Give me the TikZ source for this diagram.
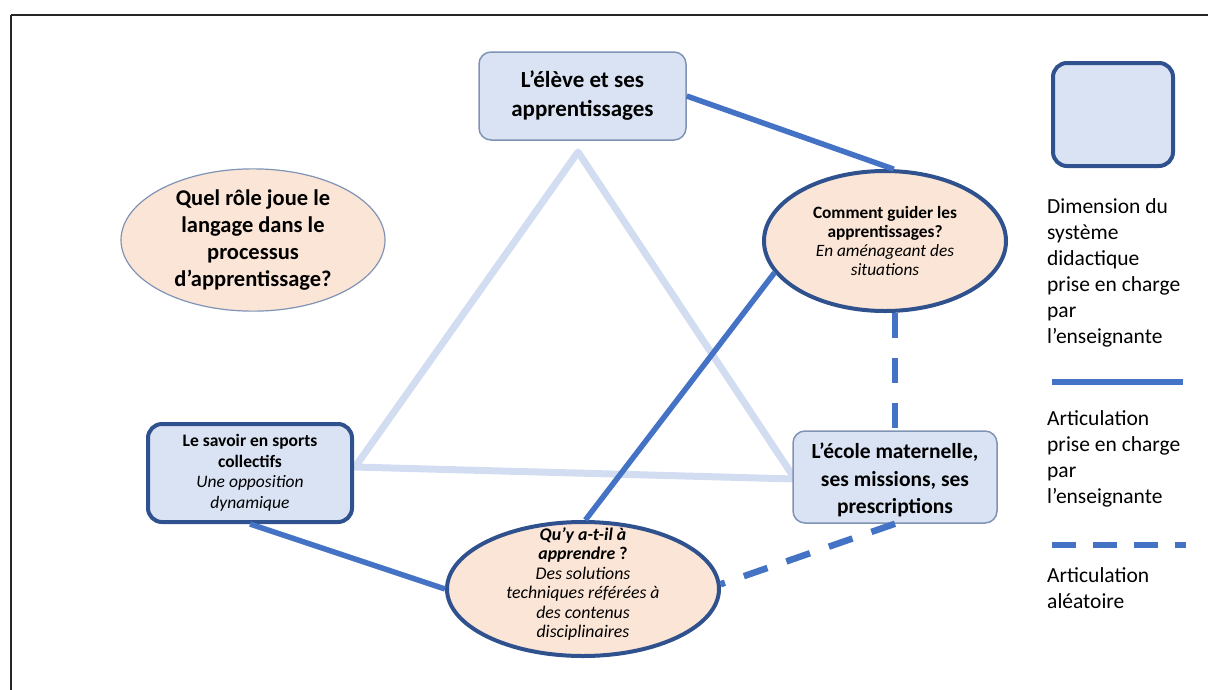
\documentclass[tikz,border=0pt]{standalone}
\usepackage{fontspec}
\setmainfont{Carlito}
\usetikzlibrary{shapes.geometric}
\definecolor{boxfill}{HTML}{DAE3F3}
\definecolor{peach}{HTML}{FBE5D6}
\definecolor{darkb}{HTML}{2F528F}
\definecolor{thinb}{HTML}{7F93B5}
\definecolor{conn}{HTML}{4472C4}
\definecolor{tri}{HTML}{D3DDF1}
\tikzset{
  dimbox/.style={draw=thinb, line width=1.5pt, fill=boxfill, rounded corners=12pt, align=center, inner sep=0pt},
  dimboxthick/.style={draw=darkb, line width=4pt, fill=boxfill, rounded corners=14pt, align=center, inner sep=0pt},
  question/.style={ellipse, draw=darkb, line width=4pt, fill=peach, align=center, inner sep=0pt},
  questionthin/.style={ellipse, draw=thinb, line width=1.2pt, fill=peach, align=center, inner sep=0pt},
  link/.style={draw=conn, line width=5.5pt},
  randlink/.style={draw=conn, line width=6.5pt, dash pattern=on 25pt off 20pt},
  triline/.style={draw=tri, line width=7pt, line join=round},
  legendtext/.style={align=left, anchor=north west, inner sep=0pt, font=\fontsize{21.5}{26}\selectfont}
}
\begin{document}
\begin{tikzpicture}[x=1pt,y=-1pt]
\useasboundingbox (0,0) rectangle (1208,689);
\draw[line width=2.2pt, black!85] (11,15) -- (1230,15);
\draw[line width=2.2pt, black!85] (11,15) -- (11,710);

% light triangle
\coordinate (apex) at (578,152);
\coordinate (tl) at (355,467);
\coordinate (tr) at (795,479);
\draw[triline] (tl) -- (apex) -- (tr) -- cycle;

% nodes
\node[dimbox, minimum width=207pt, minimum height=88pt, font=\bfseries\fontsize{23}{29}\selectfont] (eleve) at (582.5,96) {L’élève et ses\\apprentissages};
\node[dimboxthick, minimum width=204pt, minimum height=98pt, font=\fontsize{17.5}{20.5}\selectfont] (savoir) at (250,473) {\textbf{Le savoir en sports}\\\textbf{collectifs}\\\textit{Une opposition}\\\textit{dynamique}};
\node[dimbox, minimum width=204pt, minimum height=92pt] (ecole) at (895,477) {};
\node[align=center, inner sep=0pt, font=\bfseries\fontsize{21.5}{27.5}\selectfont] (ecoletext) at (ecole.center) [yshift=-3pt] {L’école maternelle,\\ses missions, ses\\prescriptions};

\node[questionthin, minimum width=264pt, minimum height=126pt, font=\bfseries\fontsize{22.5}{27}\selectfont] (langage) at (253,240) {Quel rôle joue le\\langage dans le\\processus\\d’apprentissage?};
\node[question, minimum width=242pt, minimum height=140pt, font=\fontsize{17.3}{19}\selectfont] (guider) at (885,241) {\textbf{Comment guider les}\\\textbf{apprentissages?}\\\textit{En aménageant des}\\\textit{situations}};
\node[question, minimum width=272pt, minimum height=134pt] (quy) at (583,589) {};
\node[align=center, inner sep=0pt, font=\fontsize{17.8}{19.5}\selectfont] (quytext) at (583,584) {\textbf{\textit{Qu’y a-t-il à}}\\\textbf{\textit{apprendre} ?}\\\textit{Des solutions}\\\textit{techniques référées à}\\\textit{des contenus}\\\textit{disciplinaires}};

% legend
\node[dimboxthick, minimum width=120pt, minimum height=103pt] (legbox) at (1113,114.5) {};
\node[legendtext] (legdim) at (1047,198) {Dimension du\\système\\didactique\\prise en charge\\par\\l’enseignante};
\coordinate (ls1) at (1052,382);
\coordinate (ls2) at (1183,382);
\draw[link] (ls1) -- (ls2);
\node[legendtext] (legart) at (1047,410) {Articulation\\prise en charge\\par\\l’enseignante};
\coordinate (ld1) at (1052,545);
\coordinate (ld2) at (1186,545);
\draw[randlink, dash pattern=on 24pt off 17pt] (ld1) -- (ld2);
\node[legendtext] (legalea) at (1047,567) {Articulation\\aléatoire};

% connectors
\draw[link] (eleve.east) -- (guider.83);
\draw[link] (guider.196) -- (quy.88);
\draw[link] (savoir.south) -- (quy.180);
\draw[randlink] (ecole.north |- guider.south) -- (ecole.north);
\draw[randlink] (ecole.south) -- (quy.2);
\end{tikzpicture}
\end{document}
